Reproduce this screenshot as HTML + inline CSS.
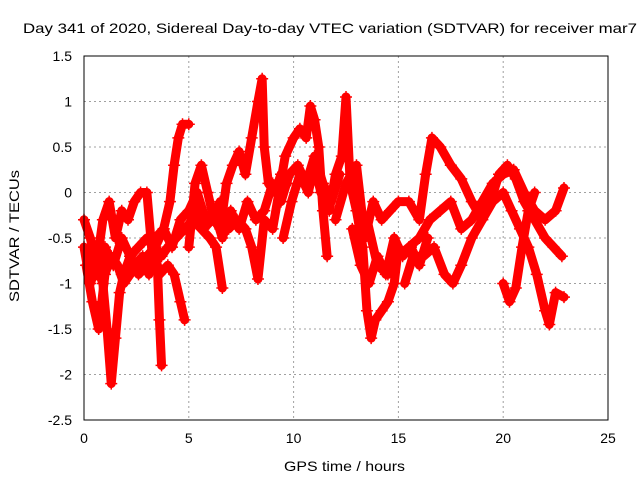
<!DOCTYPE html>
<html><head><meta charset="utf-8"><style>
body{margin:0;background:#fff}
svg text{font-family:"Liberation Sans",sans-serif;font-size:14px;fill:#000}
</style></head><body>
<svg id="chart" width="640" height="480" xmlns="http://www.w3.org/2000/svg">
<text x="23" y="33" textLength="614" lengthAdjust="spacingAndGlyphs">Day 341 of 2020, Sidereal Day-to-day VTEC variation (SDTVAR) for receiver mar7</text>
<g id="grid"></g>
<g id="axes"></g>
<g id="series"></g>
<rect x="84" y="56" width="524" height="364" fill="none" stroke="#000" stroke-width="1"/>
<text x="284" y="471" textLength="121" lengthAdjust="spacingAndGlyphs">GPS time / hours</text>
<text transform="translate(19,302) rotate(-90)" textLength="132" lengthAdjust="spacingAndGlyphs">SDTVAR / TECUs</text>
</svg>
<script>
const xTicks=[0,5,10,15,20,25];
const yTicks=[1.5,1,0.5,0,-0.5,-1,-1.5,-2,-2.5];
const t1x=[0,0.3,0.6,0.9,1.1,1.3,1.5,1.7,1.9,2.2,2.6,3.0,3.3,3.5,3.6,3.7];
const t1y=[-0.6,-1.0,-0.8,-1.0,-1.5,-2.1,-1.6,-1.1,-0.9,-0.7,-0.6,-0.5,-0.6,-0.8,-1.4,-1.9];
const t2x=[1.8,2.2,2.6,3.0,3.4,3.8,4.1,4.3,4.5,4.7,5.0];
const t2y=[-0.9,-0.8,-0.75,-0.7,-0.6,-0.4,-0.1,0.3,0.6,0.75,0.75];
const t3x=[0,0.3,0.6,0.9,1.2,1.5,1.8,2.1,2.4,2.7,3.0,3.3,3.6,4.0,4.3,4.6,4.8];
const t3y=[-0.3,-0.5,-0.8,-0.3,-0.1,-0.5,-0.2,-0.3,-0.1,0.0,0.0,-0.8,-0.9,-0.8,-0.9,-1.2,-1.4];
const t4x=[0.1,0.4,0.7,1.0,1.3,1.6,1.9,2.2,2.5,2.8,3.1,3.4,3.7,4.0,4.4,4.8,5.2,5.6,6.0,6.3,6.6];
const t4y=[-0.8,-1.2,-1.5,-0.9,-0.7,-0.8,-1.0,-0.9,-0.8,-0.7,-0.9,-0.6,-0.7,-0.6,-0.5,-0.4,-0.3,-0.4,-0.5,-0.6,-1.05];
const t5x=[5.0,5.3,5.6,5.9,6.2,6.5,6.8,7.1,7.4,7.7,8.0,8.3,8.5,8.6,8.8,9.1,9.4,9.7];
const t5y=[-0.6,0.1,0.3,0.0,-0.3,-0.4,0.1,0.3,0.45,0.2,0.6,1.0,1.25,0.5,0.1,0.0,0.2,0.1];
const t6x=[5.3,5.7,6.1,6.5,6.9,7.3,7.7,8.0,8.3,8.6,9.0,9.3,9.6,10.0,10.3,10.6,10.8,11.0,11.2,11.4,11.6];
const t6y=[-0.2,-0.4,-0.3,-0.1,-0.4,-0.3,-0.4,-0.6,-0.95,-0.3,-0.4,0.0,0.4,0.6,0.7,0.6,0.95,0.8,0.5,-0.2,-0.7];
const t7x=[9.5,9.9,10.3,10.7,11.0,11.3,11.7,12.0,12.3,12.5,12.7,13.0,13.3,13.5,13.7,13.9,14.2,14.5,14.8,15.0];
const t7y=[-0.5,-0.1,0.2,0.0,0.3,0.0,-0.2,0.2,0.4,1.05,0.1,-0.2,-0.6,-1.3,-1.6,-1.4,-1.3,-1.2,-1.0,-0.6];
const t8x=[12.0,12.5,13.0,13.4,13.8,14.2,14.6,15.0,15.5,16.0,16.3,16.6,17.0,17.5,18.0,18.5,19.0,19.4,19.8,20.2,20.6,21.0,21.5,22.0,22.4,22.8];
const t8y=[-0.3,0.1,0.3,-0.5,-0.1,-0.3,-0.2,-0.1,-0.1,-0.3,0.2,0.6,0.5,0.3,0.15,-0.1,-0.3,-0.1,0.2,0.3,0.15,-0.1,-0.3,-0.5,-0.6,-0.7];
const t9x=[13.5,14.0,14.5,15.0,15.5,16.0,16.5,17.0,17.5,18.0,18.5,19.0,19.5,20.0,20.5,21.0,21.5,22.0,22.5,22.9];
const t9y=[-0.3,-0.8,-0.9,-0.7,-0.6,-0.5,-0.3,-0.2,-0.1,-0.4,-0.3,-0.1,0.1,0.2,0.25,0.0,-0.2,-0.3,-0.2,0.05];
const t10x=[15.3,15.7,16.2,16.7,17.2,17.6,18.0,18.5,19.0,19.5,20.0,20.4,20.8,21.2,21.6,22.0,22.2,22.5,22.9];
const t10y=[-1.0,-0.7,-0.7,-0.6,-0.9,-1.0,-0.8,-0.5,-0.3,-0.1,0.0,-0.2,-0.4,-0.6,-0.9,-1.3,-1.45,-1.1,-1.15];
const t11x=[20.0,20.3,20.6,20.9,21.2,21.5];
const t11y=[-1.0,-1.2,-1.05,-0.6,-0.2,0.0];
const t12x=[0.2,0.6,1.0,1.4,1.8,2.2,2.6,3.0,3.4,3.8,4.2,4.6,5.0,5.4,5.8,6.2,6.6,7.0,7.4,7.8,8.2,8.6,9.0,9.4,9.8,10.2,10.6,11.0,11.4,11.8,12.2];
const t12y=[-0.7,-0.9,-0.6,-0.8,-0.5,-0.7,-0.9,-0.8,-0.5,-0.4,-0.6,-0.3,-0.2,0.0,-0.3,-0.2,-0.5,-0.2,-0.4,-0.1,-0.3,-0.2,0.1,-0.1,0.2,0.3,0.1,0.4,0.1,-0.1,0.2];
const t13x=[12.8,13.2,13.6,14.0,14.4,14.8,15.2,15.6,16.0,16.4];
const t13y=[-0.4,-0.8,-1.0,-0.7,-0.9,-0.5,-0.7,-0.6,-0.8,-0.5];
const tracks=[[t1x,t1y],[t2x,t2y],[t3x,t3y],[t4x,t4y],[t5x,t5y],[t6x,t6y],[t7x,t7y],[t8x,t8y],[t9x,t9y],[t10x,t10y],[t11x,t11y],[t12x,t12y],[t13x,t13y]];

const NS='http://www.w3.org/2000/svg';
const X=v=>84+v*(524/25);
const Y=v=>56+(1.5-v)*(364/4);
const grid=document.getElementById('grid'),axes=document.getElementById('axes'),ser=document.getElementById('series');
function mk(tag,at,parent){const e=document.createElementNS(NS,tag);for(const k in at)e.setAttribute(k,at[k]);parent.appendChild(e);return e;}
xTicks.forEach(t=>{
  const g=mk('line',{x1:X(t),x2:X(t),y1:56,y2:420,stroke:'#a0a0a0','stroke-dasharray':'2,3'},grid);
  
  
  const tx=mk('text',{x:X(t),y:443,'text-anchor':'middle'},axes);tx.textContent=t;
  
  
});
yTicks.forEach(t=>{
  const g=mk('line',{x1:84,x2:608,y1:Y(t),y2:Y(t),stroke:'#a0a0a0','stroke-dasharray':'2,3'},grid);
  
  
  const tx=mk('text',{x:72,y:Y(t)+5,'text-anchor':'end'},axes);tx.textContent=t;
  
  
});
tracks.forEach(([xs,ys])=>{
  const pts=xs.map((x,i)=>X(x)+','+Y(ys[i])).join(' ');
  const pl=mk('polyline',{points:pts,fill:'none',stroke:'#ff0000','stroke-width':9,'stroke-linejoin':'round','stroke-linecap':'round'},ser);
  
  
  xs.forEach((x,i)=>{
    const px=X(x),py=Y(ys[i]);
    const p=mk('path',{d:`M${px-6},${py}h12M${px},${py-6}v12`,stroke:'#ff0000','stroke-width':1.5},ser);
    
    
  });
});
</script>
</body></html>
